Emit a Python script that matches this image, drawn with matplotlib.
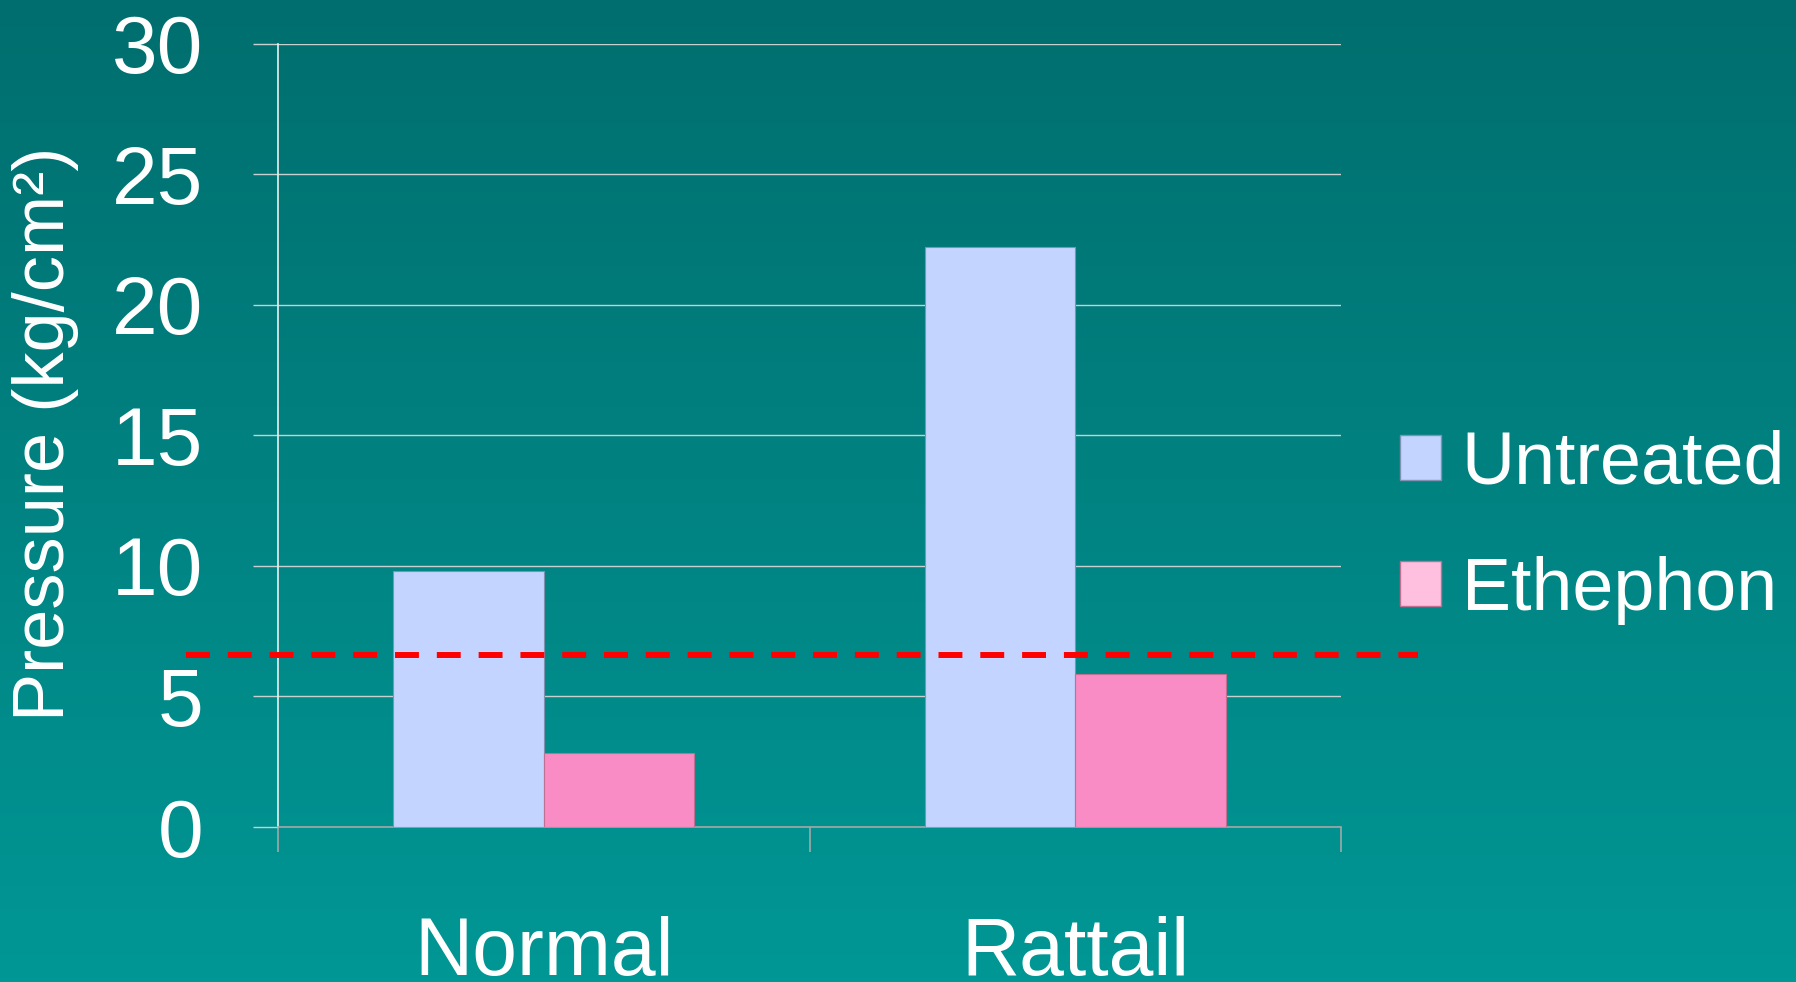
import numpy as np
import matplotlib
matplotlib.use('Agg')
import matplotlib.pyplot as plt
from matplotlib.patches import Patch

plt.rcParams['font.family'] = ['Liberation Sans', 'DejaVu Sans']

# chart values
categories = ['Normal', 'Rattail']
untreated = [9.8, 22.2]
ethephon = [2.85, 5.85]
threshold = 6.6
y_ticks = [0, 5, 10, 15, 20, 25, 30]

fig = plt.figure(figsize=(17.96, 9.82), dpi=100)

# teal gradient background
bg = fig.add_axes([0, 0, 1, 1], zorder=-10)
top = np.array([0, 110, 110]) / 255
bottom = np.array([0, 151, 149]) / 255
t = np.linspace(0, 1, 256)[:, None]
grad = top + (bottom - top) * t
bg.imshow(grad[:, None, :].repeat(2, axis=1), aspect='auto', extent=[0, 1, 0, 1])
bg.axis('off')

ax = fig.add_axes([0.1548, 0.1578, 0.5919, 0.7979])
ax.patch.set_alpha(0)

x = np.arange(len(categories))
w = 0.283
ax.bar(x - w / 2, untreated, w, color='#c2d4ff', edgecolor='#7f93b0', linewidth=0.8, zorder=3)
ax.bar(x + w / 2, ethephon, w, color='#f98cc4', edgecolor='#c07090', linewidth=0.8, zorder=3)

ax.set_xlim(-0.5, 1.5)
ax.set_ylim(0, 30)
ax.set_yticks(y_ticks)
ax.yaxis.grid(True, color='#c8d0d0', linewidth=1.0, zorder=0)
ax.tick_params(axis='y', length=18, width=1.0, color='#c8d0d0', labelsize=59,
               labelcolor='white', pad=36)

ax.set_xticks(x)
ax.set_xticklabels(categories)
ax.set_xticks([-0.5, 0.5, 1.5], minor=True)
ax.tick_params(axis='x', which='major', length=0, labelsize=58, labelcolor='white', pad=64)
ax.tick_params(axis='x', which='minor', length=18, width=1.2, color='#a0a8a8')

for s in ['top', 'right']:
    ax.spines[s].set_visible(False)
ax.spines['left'].set_color('#e8f0f0')
ax.spines['left'].set_linewidth(1.2)
ax.spines['bottom'].set_color('#a0a8a8')
ax.spines['bottom'].set_linewidth(1.2)

# red dashed threshold line, reaching past the plot on both sides
ax.axhline(threshold, xmin=-0.087, xmax=1.0725, color='#ff0000', linewidth=4.3,
           dashes=(4, 3), clip_on=False, zorder=4)

fig.text(46 / 1796, 1 - 434 / 982, 'Pressure (kg/cm²)', rotation=90, color='white',
         fontsize=52, ha='center', va='center')

handles = [Patch(facecolor='#c2d4ff', edgecolor='#7f93b0'),
           Patch(facecolor='#ffc0e0', edgecolor='#c07090')]
leg = fig.legend(handles, ['Untreated', 'Ethephon'], loc='center left',
                 bbox_to_anchor=(1400 / 1796, 1 - 527 / 982), frameon=False,
                 fontsize=53, labelcolor='white', handlelength=0.56, handleheight=0.56,
                 handletextpad=0.28, labelspacing=0.78, borderaxespad=0, borderpad=0)

fig.savefig('out.png', dpi=100)
